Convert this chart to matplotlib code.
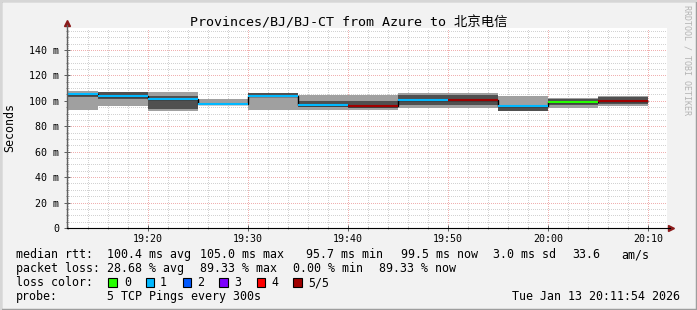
import matplotlib

matplotlib.use("Agg")
import matplotlib.pyplot as plt
from matplotlib.patches import Rectangle
from matplotlib.ticker import FixedLocator, MultipleLocator

W, H = 697, 310

# bins are 5 minute steps, x in minutes after 19:00
bin_edges = [10, 15, 20, 25, 30, 35, 40, 45, 50, 55, 60, 65, 70]
light_lo = [92.8, 96.0, 92.2, 98.3, 93.1, 92.8, 92.8, 94.4, 94.4, 92.0, 94.4, 96.0]
light_hi = [107.8, 107.0, 107.0, 101.7, 106.5, 104.6, 104.6, 106.2, 106.2, 103.8, 102.5, 103.8]
dark_lo = [103.0, 101.5, 93.4, 97.5, 103.8, 95.2, 94.4, 96.7, 96.7, 92.0, 96.7, 97.5]
dark_hi = [105.5, 107.0, 103.8, 97.5, 106.5, 99.9, 99.9, 104.6, 104.6, 95.5, 101.5, 103.0]
median = [105.0, 103.8, 101.8, 97.5, 104.0, 96.7, 95.7, 101.0, 100.6, 96.0, 99.1, 99.5]
loss = [1, 1, 1, 1, 1, 1, 5, 1, 5, 1, 0, 5]

loss_colors = ["#26ff00", "#00b8ff", "#0059ff", "#7e00ff", "#ff0000", "#a00000"]
loss_labels = ["0", "1", "2", "3", "4", "5/5"]

x_ticks = [20, 30, 40, 50, 60, 70]
x_tick_labels = ["19:20", "19:30", "19:40", "19:50", "20:00", "20:10"]
y_ticks = [0, 20, 40, 60, 80, 100, 120, 140]
y_tick_labels = ["0", "20 m", "40 m", "60 m", "80 m", "100 m", "120 m", "140 m"]

title = "Provinces/BJ/BJ-CT from Azure to 北京电信"
legend_rows = [
    [("median rtt:", 16), ("100.4 ms avg", 107.3), ("105.0 ms max", 200),
     ("95.7 ms min", 306), ("99.5 ms now", 400.7), ("3.0 ms sd", 493.3),
     ("33.6", 572.7), ("am/s", 621.7)],
    [("packet loss:", 16), ("28.68 % avg", 107.3), ("89.33 % max", 200),
     ("0.00 % min", 293.3), ("89.33 % now", 379.3)],
    [("loss color:", 16)],
    [("probe:", 16), ("5 TCP Pings every 300s", 107.3)],
]
legend_y = [254.5, 268.5, 282.5, 296.5]
box_x = [108.3, 145.7, 182.7, 219.3, 256.7, 293.3]
box_label_x = [124, 160, 197.3, 234.3, 271, 308.3]
timestamp = "Tue Jan 13 20:11:54 2026"

MONO = ["DejaVu Sans Mono", "Noto Sans CJK SC"]
plt.rcParams["font.family"] = MONO


def fx(px):
    return px / W


def fy(py):
    return 1 - py / H


fig = plt.figure(figsize=(W / 100, H / 100), dpi=100, facecolor="#f2f2f2")

# 3D frame like rrdtool
fig.patches.append(Rectangle((0, 0), 1, 1, transform=fig.transFigure,
                             fill=False, ec="#9e9e9e", lw=2.5))
fig.patches.append(Rectangle((0, fy(2)), 1, 2 / H, transform=fig.transFigure,
                             color="#d6d6d6", lw=0))
fig.patches.append(Rectangle((0, 0), 2 / W, 1, transform=fig.transFigure,
                             color="#d6d6d6", lw=0))

left, right, top, bottom = 67, 667, 28, 228
ax = fig.add_axes([fx(left), fy(bottom), (right - left) / W, (bottom - top) / H])
ax.set_facecolor("white")
ax.set_xlim(11.9, 71.9)
ax.set_ylim(0, 157.3)
ax.set_axisbelow(True)

starts = bin_edges[:-1]
ax.bar(starts, [h - l for h, l in zip(light_hi, light_lo)], width=5, bottom=light_lo,
       align="edge", color="#a0a0a0", lw=0)
ax.bar(starts, [h - l for h, l in zip(dark_hi, dark_lo)], width=5, bottom=dark_lo,
       align="edge", color="#505050", lw=0)
ax.stairs(median, bin_edges, baseline=None, color="black", lw=1.0)
ax.hlines(median, bin_edges[:-1], bin_edges[1:],
          colors=[loss_colors[k] for k in loss], lw=1.5)

# grid
ax.xaxis.set_major_locator(FixedLocator(x_ticks))
ax.xaxis.set_minor_locator(MultipleLocator(2))
ax.yaxis.set_major_locator(FixedLocator(y_ticks))
ax.yaxis.set_minor_locator(MultipleLocator(5))
ax.grid(which="minor", color="#d2d2d2", ls=(0, (1, 2)), lw=0.72, antialiased=False)
ax.grid(which="major", color="#f0b0b0", ls=(0, (1, 2)), lw=0.72, antialiased=False)
ax.set_xticklabels(x_tick_labels)
ax.set_yticklabels(y_tick_labels)
ax.tick_params(which="major", direction="inout", length=4, width=0.72,
               labelsize=7.2, color="#606060")
ax.tick_params(which="minor", direction="inout", length=2, width=0.72,
               color="#808080")
ax.tick_params(axis="x", pad=2)
ax.tick_params(axis="y", pad=3.5)

for s in ("top", "right"):
    ax.spines[s].set_visible(False)
ax.spines["left"].set_color("#606060")
ax.spines["left"].set_linewidth(1.0)
ax.spines["left"].set_bounds(0, 160)
ax.spines["bottom"].set_color("black")
ax.spines["bottom"].set_linewidth(0.8)
ax.spines["bottom"].set_bounds(11.9, 72.2)
ax.plot(11.9, 161, marker="^", color="#8b1a1a", ms=4, clip_on=False)
ax.plot(72.3, 0, marker=">", color="#8b1a1a", ms=4, clip_on=False)

fig.text(0.5, fy(23), title, ha="center", va="center", fontsize=9.6, family=MONO)
fig.text(fx(10), fy(127), "Seconds", rotation=90, ha="center", va="center",
         fontsize=8.4)
fig.text(fx(687), fy(5), "RRDTOOL / TOBI OETIKER", rotation=270, ha="center",
         va="top", fontsize=6, color="#b4b4b4")

for row, yy in zip(legend_rows, legend_y):
    for txt, xx in row:
        fig.text(fx(xx), fy(yy), txt, ha="left", va="center", fontsize=8.4)

for col, bx, lx, lab in zip(loss_colors, box_x, box_label_x, loss_labels):
    fig.patches.append(Rectangle((fx(bx), fy(287)), 8.5 / W, 9.5 / H,
                                 transform=fig.transFigure, fc=col, ec="black",
                                 lw=0.8))
    fig.text(fx(lx), fy(legend_y[2]), lab, ha="left", va="center", fontsize=8.4)

fig.text(fx(680), fy(legend_y[3]), timestamp, ha="right", va="center", fontsize=8.4)

fig.savefig("out.png", dpi=100, facecolor=fig.get_facecolor())
